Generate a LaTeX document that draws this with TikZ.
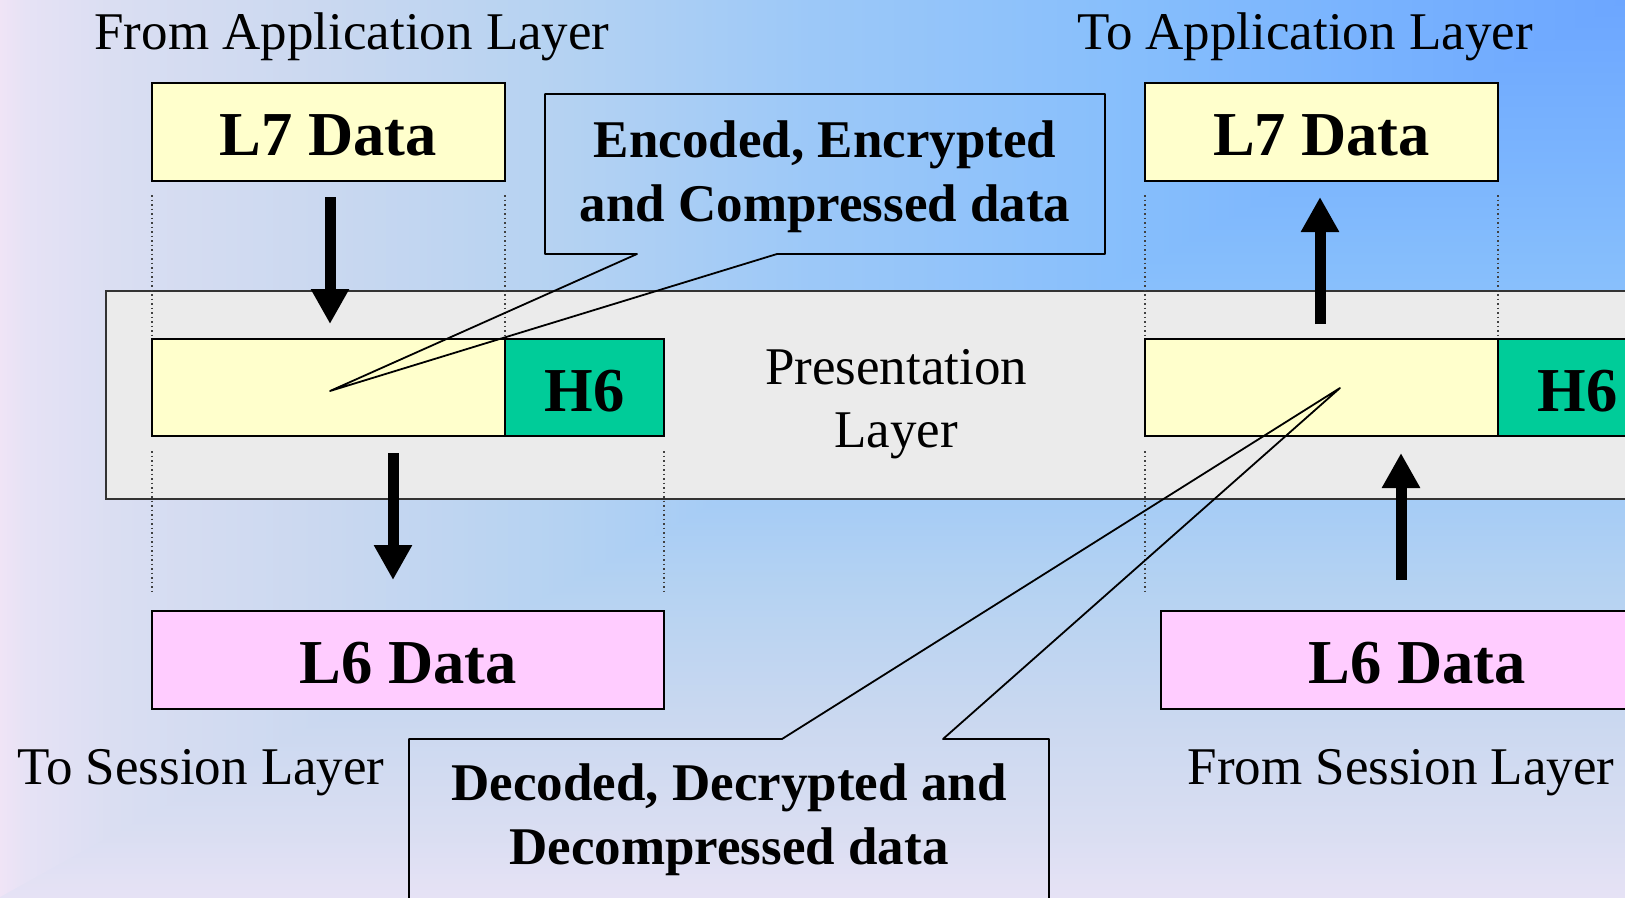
\documentclass[tikz,border=0pt]{standalone}
\usepackage{fontspec}
\setmainfont{Liberation Serif}
\usetikzlibrary{arrows.meta}
\definecolor{cL}{HTML}{F0E4F6}
\definecolor{cB}{HTML}{E6E2F5}
\definecolor{cNN}{HTML}{DADEF2}
\definecolor{cEE}{HTML}{CAD8F0}
\definecolor{cSF}{HTML}{B4D2F2}
\definecolor{cFF}{HTML}{9CC8F8}
\definecolor{cTT}{HTML}{86BEFC}
\definecolor{cFT}{HTML}{78B2FE}
\definecolor{cZ}{HTML}{6CA6FF}
\definecolor{boxyellow}{HTML}{FFFFCC}
\definecolor{boxgreen}{HTML}{00CC99}
\definecolor{boxpink}{HTML}{FFCCFF}
\definecolor{bandgray}{HTML}{EBEBEB}
\pgfdeclarehorizontalshading{bgh}{100bp}{color(0bp)=(cL); color(25bp)=(cL); color(25.8bp)=(cB); color(28.5bp)=(cNN); color(35bp)=(cEE); color(42.5bp)=(cSF); color(50bp)=(cFF); color(60bp)=(cTT); color(67.5bp)=(cFT); color(75bp)=(cZ); color(100bp)=(cZ)}
\pgfdeclareverticalshading{bgv}{100bp}{color(0bp)=(cB); color(25bp)=(cB); color(28.5bp)=(cNN); color(35bp)=(cEE); color(42.5bp)=(cSF); color(50bp)=(cFF); color(60bp)=(cTT); color(67.5bp)=(cFT); color(75bp)=(cZ); color(100bp)=(cZ)}
\newcommand\regfont{\fontsize{53}{63}\selectfont}
\newcommand\boxfont{\fontsize{62.5}{70}\selectfont\bfseries}
\newcommand\calfont{\fontsize{53}{64}\selectfont\bfseries}
\begin{document}
\begin{tikzpicture}[x=1pt,y=-1pt,
  box/.style={draw=black, line width=2pt, inner sep=0pt, text height=47pt, text depth=0pt, font=\boxfont},
  lbl/.style={inner sep=0pt, anchor=base, font=\regfont},
  dotline/.style={draw=black!75, line width=1.5pt, dash pattern=on 1.5pt off 3pt},
  bigarrow/.style={-{Triangle[length=35pt,width=36pt]}, line width=11pt},
  callout/.style={draw=black, line width=1.8pt, line join=round}]
\useasboundingbox (0,0) rectangle (1625,897);
\clip (0,0) rectangle (1625,897);
% background
\shade[shading=bgv] (0,0) rectangle (1625,897);
\begin{scope}
\clip (0,0) -- (1625,0) -- (0,897) -- cycle;
\shade[shading=bgh] (0,0) rectangle (1625,897);
\end{scope}
% presentation band
\node[draw=black!80, line width=2pt, fill=bandgray, inner sep=0pt, minimum width=1640pt, minimum height=208pt, anchor=north west] (band) at (105,290) {};
\node[lbl, anchor=center, align=center] (pres) at (896,404) {Presentation\\Layer};
% dotted guides
\draw[dotline] (152,195) -- (152,339);
\draw[dotline] (505,195) -- (505,339);
\draw[dotline] (1145,195) -- (1145,339);
\draw[dotline] (1498,195) -- (1498,339);
\draw[dotline] (152,451) -- (152,591);
\draw[dotline] (664,451) -- (664,591);
\draw[dotline] (1145,451) -- (1145,591);
% boxes
\node[box, fill=boxyellow, minimum width=353pt, minimum height=98pt] (L7a) at (328.5,132) {L7 Data};
\node[box, fill=boxyellow, minimum width=353pt, minimum height=98pt] (L7b) at (1321.5,132) {L7 Data};
\node[box, fill=boxyellow, minimum width=353pt, minimum height=97pt] (Ya) at (328.5,387.5) {};
\node[box, fill=boxgreen, minimum width=159pt, minimum height=97pt] (Ga) at (584.5,387.5) {H6};
\node[box, fill=boxyellow, minimum width=353pt, minimum height=97pt] (Yb) at (1321.5,387.5) {};
\node[box, fill=boxgreen, minimum width=159pt, minimum height=97pt] (Gb) at (1577.5,387.5) {H6};
\node[box, fill=boxpink, minimum width=512pt, minimum height=98pt] (L6a) at (408,660) {L6 Data};
\node[box, fill=boxpink, minimum width=512pt, minimum height=98pt] (L6b) at (1417,660) {L6 Data};
% arrows
\coordinate (a1s) at (330,197); \coordinate (a1e) at (330,324);
\coordinate (a2s) at (393,453); \coordinate (a2e) at (393,580);
\coordinate (a3s) at (1320,324); \coordinate (a3e) at (1320,197);
\coordinate (a4s) at (1401,580); \coordinate (a4e) at (1401,453);
\draw[bigarrow] (a1s) -- (a1e);
\draw[bigarrow] (a2s) -- (a2e);
\draw[bigarrow] (a3s) -- (a3e);
\draw[bigarrow] (a4s) -- (a4e);
% callouts
\coordinate (tipA) at (330,391);
\coordinate (tipB) at (1340,388);
\draw[callout] (637,254) -- (545,254) -- (545,94) -- (1105,94) -- (1105,254) -- (777,254) -- (tipA) -- cycle;
\draw[callout] (409,920) -- (409,739) -- (782,739) -- (tipB) -- (943,739) -- (1049,739) -- (1049,920);
\node[inner sep=0pt, align=center, font=\calfont] (enc) at (825,176.5) {Encoded, Encrypted\\and Compressed data};
\node[inner sep=0pt, align=center, font=\calfont] (dec) at (729,820) {Decoded, Decrypted and\\Decompressed data};
% layer labels
\node[lbl] (fromapp) at (352,49) {From Application Layer};
\node[lbl] (toapp) at (1305,49) {To Application Layer};
\node[lbl] (tosess) at (201,784) {To Session Layer};
\node[lbl] (fromsess) at (1401,784) {From Session Layer};
\end{tikzpicture}
\end{document}
